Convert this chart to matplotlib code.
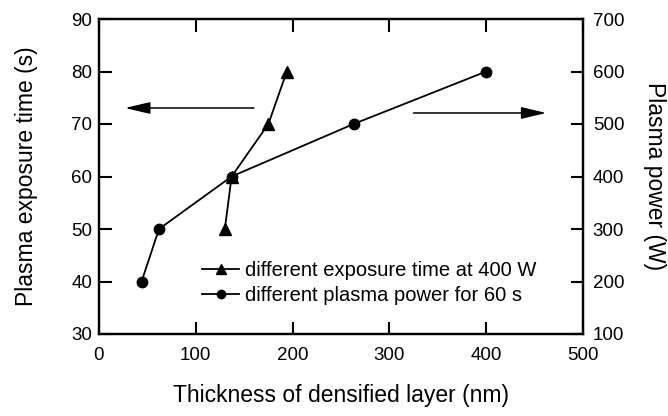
import matplotlib
matplotlib.use("Agg")
import matplotlib.pyplot as plt

plt.rcParams['font.family'] = ['Liberation Sans', 'DejaVu Sans']

# Data
tri_x = [130, 137, 175, 194]
tri_y = [50, 60, 70, 80]          # exposure time (s), left axis
circ_x = [44, 62, 137, 263, 400]
circ_y = [200, 300, 400, 500, 600]  # plasma power (W), right axis

x_ticks = [0, 100, 200, 300, 400, 500]
yl_ticks = [30, 40, 50, 60, 70, 80, 90]
yr_ticks = [100, 200, 300, 400, 500, 600, 700]

fig = plt.figure(figsize=(6.68, 4.16), dpi=100)
ax = fig.add_axes([99/668, 1 - 334/416, (583-99)/668, (334-19)/416])
ax2 = ax.twinx()

l1, = ax.plot(tri_x, tri_y, color='black', marker='^', markersize=9, lw=1.3,
              label='different exposure time at 400 W')
l2, = ax2.plot(circ_x, circ_y, color='black', marker='o', markersize=7.5, lw=1.3,
               label='different plasma power for 60 s')

ax.set_xlim(0, 500)
ax.set_ylim(30, 90)
ax2.set_ylim(100, 700)
ax.set_xticks(x_ticks)
ax.set_yticks(yl_ticks)
ax2.set_yticks(yr_ticks)

ax.tick_params(axis='x', direction='in', top=True, length=9, width=1.5, labelsize=13.5, pad=9)
ax.tick_params(axis='y', direction='in', length=9, width=1.5, labelsize=13.5, pad=5)
ax2.tick_params(axis='y', direction='in', length=9, width=1.5, labelsize=13.5, pad=7)
for a in (ax, ax2):
    for s in a.spines.values():
        s.set_linewidth(1.6)

ax.set_xlabel('Thickness of densified layer (nm)', fontsize=16.5, labelpad=15)
ax.set_ylabel('Plasma exposure time (s)', fontsize=16.5, labelpad=24)
ax2.set_ylabel('Plasma power (W)', fontsize=16.5, rotation=270, labelpad=30)

arrow_style = '-|>,head_length=1.4,head_width=0.33'
ax.annotate('', xy=(24, 73.05), xytext=(163, 73.05),
            arrowprops=dict(arrowstyle=arrow_style, color='black', lw=1.1, mutation_scale=11))
ax.annotate('', xy=(465, 72.1), xytext=(322, 72.1),
            arrowprops=dict(arrowstyle=arrow_style, color='black', lw=1.1, mutation_scale=11))

ax.legend(handles=[l1, l2], loc='center left', bbox_to_anchor=(0.213, 0.162),
          frameon=False, fontsize=14.5, handlelength=1.85, handletextpad=0.3,
          labelspacing=0.3, borderpad=0, borderaxespad=0, markerscale=0.8)

fig.savefig('out.png', dpi=100)
